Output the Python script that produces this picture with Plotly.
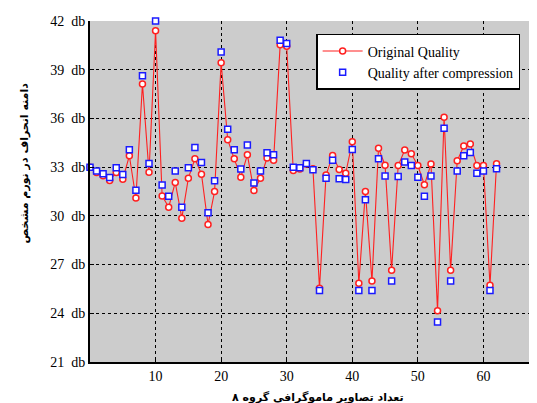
import plotly.graph_objects as go

x_idx = list(range(0, 63))

original_quality = [
    33.0, 32.67, 32.47, 32.18, 32.67, 32.26, 33.7, 31.1, 38.12, 32.69,
    41.4, 31.23, 30.53, 32.06, 29.86, 32.32, 33.51, 32.57, 29.47, 31.5,
    39.43, 34.69, 33.51, 32.38, 33.76, 31.56, 32.32, 33.56, 33.43, 40.54,
    40.44, 32.79, 32.88, 33.2, 32.9, 25.54, 32.51, 33.72, 32.86, 32.63,
    34.56, 25.85, 31.5, 25.99, 34.17, 33.12, 26.65, 33.1, 34.05, 33.82,
    33.1, 31.91, 33.19, 24.15, 36.08, 26.65, 33.39, 34.3, 34.42, 33.1,
    33.1, 25.73, 33.21,
]

compressed_quality = [
    33.0, 32.77, 32.6, 32.36, 32.96, 32.55, 34.07, 31.58, 38.63, 33.23,
    42.0, 31.9, 31.2, 32.77, 30.53, 32.96, 34.21, 33.29, 30.19, 32.16,
    40.09, 35.34, 34.07, 32.88, 34.36, 32.03, 32.77, 33.88, 33.76, 40.81,
    40.62, 33.0, 32.96, 33.23, 32.84, 25.4, 32.32, 33.43, 32.28, 32.24,
    34.09, 25.4, 30.99, 25.4, 33.51, 32.45, 25.99, 32.42, 33.31, 33.1,
    32.38, 31.2, 32.45, 23.47, 35.4, 25.99, 32.77, 33.7, 33.9, 32.63,
    32.77, 25.4, 32.9,
]

y_tickvals = [21, 24, 27, 30, 33, 36, 39, 42]
y_ticktext = [f"{v}\u00a0 db" for v in y_tickvals]
x_tickvals = [10, 20, 30, 40, 50, 60]

serif = "'Times New Roman', 'Liberation Serif', serif"

fig = go.Figure()
fig.add_trace(go.Scatter(
    x=x_idx, y=original_quality, mode="lines+markers",
    name="Original Quality",
    line=dict(color="#ff2020", width=1.1),
    marker=dict(symbol="circle", size=6, color="white",
                line=dict(color="#ff2020", width=1.5)),
    cliponaxis=False,
))
fig.add_trace(go.Scatter(
    x=x_idx, y=compressed_quality, mode="markers",
    name="Quality after compression",
    marker=dict(symbol="square", size=6, color="white",
                line=dict(color="#1a1aff", width=1.5)),
    cliponaxis=False,
))

fig.update_layout(
    width=537, height=403,
    margin=dict(l=82, r=0, t=13, b=49),
    paper_bgcolor="white",
    plot_bgcolor="#cccccc",
    font=dict(family=serif, size=13, color="black"),
    showlegend=True,
    legend=dict(
        x=0.497, y=0.962, xanchor="left", yanchor="top",
        bgcolor="white", bordercolor="black", borderwidth=1.5,
        font=dict(family=serif, size=14, color="black"),
        tracegroupgap=0, itemwidth=40,
    ),
    xaxis=dict(
        range=[0, 69.39], tickvals=x_tickvals,
        showgrid=True, gridcolor="black", griddash="dot", gridwidth=1,
        showline=True, linecolor="black", linewidth=2,
        ticks="inside", ticklen=4, tickcolor="black",
        zeroline=False, tickfont=dict(family=serif, size=14),
    ),
    yaxis=dict(
        range=[21, 42], tickvals=y_tickvals, ticktext=y_ticktext,
        showgrid=True, gridcolor="black", griddash="dot", gridwidth=1,
        showline=True, linecolor="black", linewidth=2,
        ticks="inside", ticklen=4, tickcolor="black",
        zeroline=False, tickfont=dict(family=serif, size=14),
    ),
    annotations=[
        dict(text="<b>دامنه انحراف در نورم مشخص</b>", textangle=-90,
             xref="paper", yref="paper", x=-0.143, y=0.585,
             xanchor="center", yanchor="middle", showarrow=False,
             font=dict(family="DejaVu Sans", size=11, color="black")),
        dict(text="<b>تعداد تصاویر ماموگرافی گروه ۸</b>",
             xref="paper", yref="paper", x=0.50, y=-0.08,
             xanchor="center", yanchor="top", showarrow=False,
             font=dict(family="DejaVu Sans", size=11, color="black")),
    ],
)

fig.write_html("out.html")
